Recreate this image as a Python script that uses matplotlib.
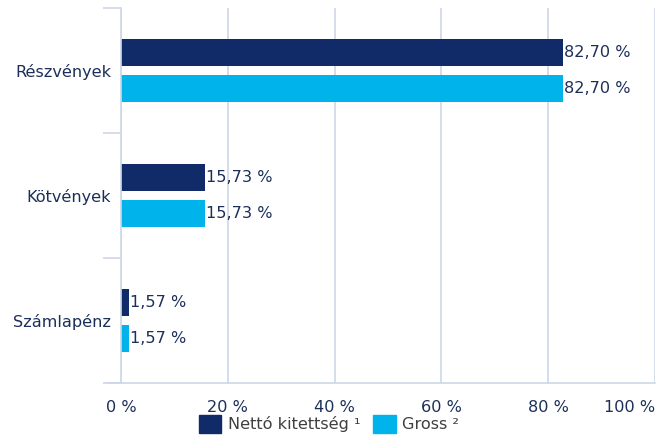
import numpy as np
import matplotlib.pyplot as plt
from matplotlib.patches import Patch

categories = ["Részvények", "Kötvények", "Számlapénz"]
netto = [82.70, 15.73, 1.57]
gross = [82.70, 15.73, 1.57]
series_names = ["Nettó kitettség ¹", "Gross ²"]
xticks = [0, 20, 40, 60, 80, 100]

navy = "#112b69"
cyan = "#00b3ea"
grid_c = "#cdd7e6"
text_c = "#1c2f5a"
fs = 11.6

plt.rcParams["font.family"] = ["DejaVu Sans"]

fig = plt.figure(figsize=(6.58, 4.36), dpi=100)
ax = fig.add_axes([121 / 658, 1 - 383 / 436, 534 / 658, 375 / 436])

y = np.arange(len(categories))
h = 0.215
off = 0.147
ax.barh(y - off, netto, height=h, color=navy)
ax.barh(y + off, gross, height=h, color=cyan)

for yi, v in zip(y - off, netto):
    ax.text(v + 0.2, yi, f"{v:.2f} %".replace(".", ","), va="center", ha="left",
            fontsize=fs, color=text_c)
for yi, v in zip(y + off, gross):
    ax.text(v + 0.2, yi, f"{v:.2f} %".replace(".", ","), va="center", ha="left",
            fontsize=fs, color=text_c)

ax.set_xlim(0, 100)
ax.set_ylim(len(categories) - 0.5, -0.5)
ax.set_xticks(xticks)
ax.set_xticklabels([f"{t} %" for t in xticks], fontsize=fs, color=text_c)
last = ax.get_xticklabels()[-1]
last.set_horizontalalignment("right")
ax.xaxis.grid(True, color=grid_c, linewidth=1.2)
ax.set_axisbelow(True)

ax.set_yticks(y)
ax.set_yticklabels(categories, fontsize=fs, color=text_c)
ax.tick_params(axis="y", length=0, pad=7)
ax.set_yticks(np.arange(len(categories) + 1) - 0.5, minor=True)
ax.tick_params(axis="y", which="minor", length=13, width=1.2, color=grid_c)
ax.tick_params(axis="x", length=0, pad=12)

for s in ["top", "right"]:
    ax.spines[s].set_visible(False)
for s in ["left", "bottom"]:
    ax.spines[s].set_color(grid_c)
    ax.spines[s].set_linewidth(1.2)
ax.plot([-13 / 534 * 100, 0], [len(categories) - 0.5] * 2, color=grid_c, lw=1.2,
        clip_on=False)

handles = [Patch(color=navy), Patch(color=cyan)]
fig.legend(handles, series_names, loc="center", bbox_to_anchor=(0.5, 1 - 424 / 436),
           ncol=2, frameon=False, fontsize=fs, handlelength=1.4, handleheight=1.4,
           handletextpad=0.4, columnspacing=0.8, borderaxespad=0,
           labelcolor="#404040")

fig.savefig("out.png", dpi=100)
